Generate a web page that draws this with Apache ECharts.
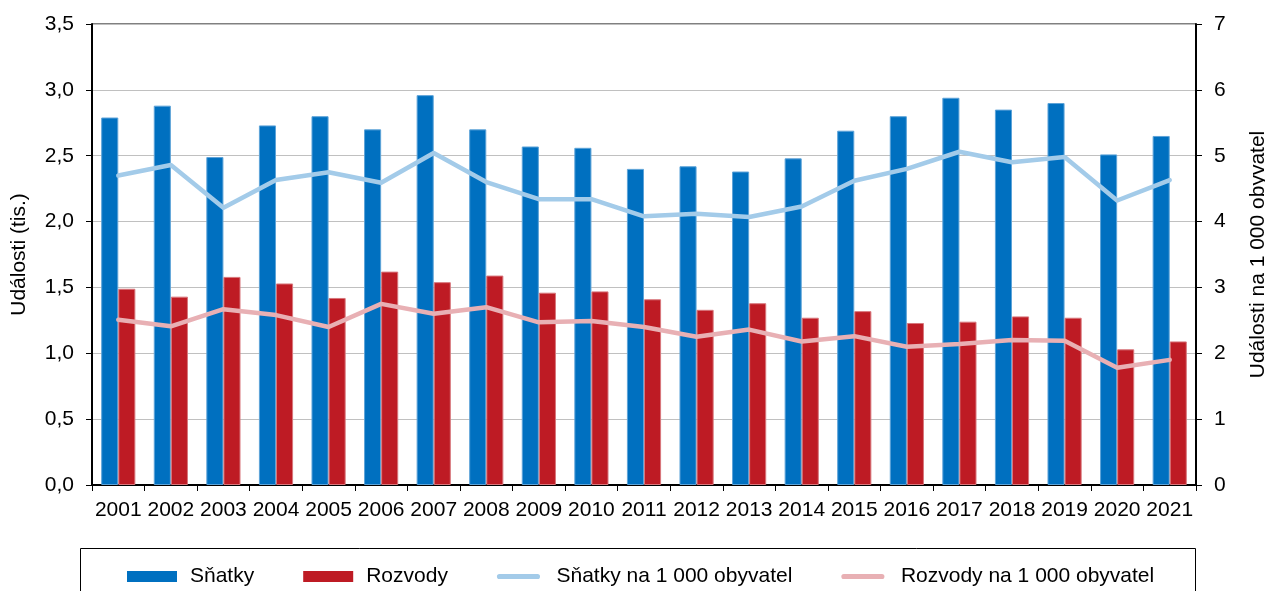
<!DOCTYPE html>
<html><head><meta charset="utf-8">
<script src="https://cdn.jsdelivr.net/npm/echarts@6/dist/echarts.min.js"></script>
<style>html,body{margin:0;padding:0;background:#fff}#c{width:1265px;height:591px}</style>
</head><body><div id="c"></div>
<script>
const years = ['2001','2002','2003','2004','2005','2006','2007','2008','2009','2010','2011','2012','2013','2014','2015','2016','2017','2018','2019','2020','2021'];
const snatky = [2.79,2.88,2.49,2.73,2.80,2.70,2.96,2.70,2.57,2.56,2.40,2.42,2.38,2.48,2.69,2.80,2.94,2.85,2.90,2.51,2.65];
const rozvody = [1.49,1.43,1.58,1.53,1.42,1.62,1.54,1.59,1.46,1.47,1.41,1.33,1.38,1.27,1.32,1.23,1.24,1.28,1.27,1.03,1.09];
const snatkyNa1000 = [4.70,4.86,4.21,4.63,4.75,4.59,5.04,4.60,4.34,4.34,4.08,4.12,4.07,4.23,4.62,4.80,5.06,4.90,4.98,4.32,4.63];
const rozvodyNa1000 = [2.51,2.41,2.67,2.58,2.40,2.75,2.60,2.70,2.47,2.49,2.40,2.25,2.36,2.18,2.26,2.10,2.14,2.20,2.19,1.78,1.90];
const leftTicks = ['0,0','0,5','1,0','1,5','2,0','2,5','3,0','3,5'];

const font = 'Liberation Sans, Arial, sans-serif';
const FS = 21;
const lineIcon = 'path://M0,0L0,0M2.5,3.5L47.5,3.5A3,3 0 0 1 47.5,9.5L2.5,9.5A3,3 0 0 1 2.5,3.5ZM50,13L50,13';
const chart = echarts.init(document.getElementById('c'), null, {renderer:'canvas'});
chart.setOption({
  animation:false,
  textStyle:{fontFamily:font, color:'#000'},
  grid:{left:92, right:69, top:24, bottom:106, show:true, borderColor:'#000', borderWidth:1,
        containLabel:false, outerBoundsMode:'none'},
  legend:{
    top:566, left:127, padding:0, itemGap:49, itemWidth:50, itemHeight:11,
    itemStyle:{borderWidth:0},
    textStyle:{fontFamily:font, fontSize:FS, color:'#000', padding:[0,0,0,8]},
    data:[
      {name:'Sňatky', icon:'rect'},
      {name:'Rozvody', icon:'rect'},
      {name:'Sňatky na 1 000 obyvatel', icon:lineIcon},
      {name:'Rozvody na 1 000 obyvatel', icon:lineIcon}
    ]
  },
  graphic:[{type:'rect', shape:{x:80.5, y:548.5, width:1115, height:60}, style:{fill:'none', stroke:'#000', lineWidth:1}, silent:true, z:-1}],
  xAxis:{
    type:'category', data:years, boundaryGap:true,
    axisLine:{lineStyle:{color:'#000', width:2}},
    axisTick:{show:true, length:6, lineStyle:{color:'#000'}},
    axisLabel:{fontSize:FS, color:'#000', margin:15, fontFamily:font, interval:0}
  },
  yAxis:[
    {type:'value', min:0, max:3.5, interval:0.5, position:'left',
     name:'Události (tis.)', nameLocation:'middle', nameGap:62, nameRotate:90,
     nameTextStyle:{fontSize:FS, color:'#000', fontFamily:font},
     axisLine:{show:true, lineStyle:{color:'#000', width:2}},
     axisTick:{show:true, length:6, lineStyle:{color:'#000'}},
     axisLabel:{fontSize:FS, color:'#000', margin:18, fontFamily:font,
       formatter:function(v){return leftTicks[Math.round(v/0.5)];}},
     splitLine:{show:true, lineStyle:{color:'#c0c0c0', width:1}}
    },
    {type:'value', min:0, max:7, interval:1, position:'right',
     name:'Události na 1 000 obyvatel', nameLocation:'middle', nameGap:52, nameRotate:90,
     nameTextStyle:{fontSize:FS, color:'#000', fontFamily:font},
     axisLine:{show:true, lineStyle:{color:'#000', width:2}},
     axisTick:{show:true, length:6, lineStyle:{color:'#000'}},
     axisLabel:{fontSize:FS, color:'#000', margin:18, fontFamily:font},
     splitLine:{show:false}
    }
  ],
  series:[
    {name:'Sňatky', type:'bar', data:snatky, yAxisIndex:0, barGap:'0%', barCategoryGap:'35%',
     itemStyle:{color:'#0070c0', borderColor:'#5da3d8', borderWidth:1}},
    {name:'Rozvody', type:'bar', data:rozvody, yAxisIndex:0,
     itemStyle:{color:'#be1b24', borderColor:'#d8777c', borderWidth:1}},
    {name:'Sňatky na 1 000 obyvatel', type:'line', data:snatkyNa1000, yAxisIndex:1,
     symbol:'none', lineStyle:{color:'#a3cbe9', width:4.5, cap:'round', join:'round'}, itemStyle:{color:'#a3cbe9'}, z:5},
    {name:'Rozvody na 1 000 obyvatel', type:'line', data:rozvodyNa1000, yAxisIndex:1,
     symbol:'none', lineStyle:{color:'#e8b0b4', width:4.5, cap:'round', join:'round'}, itemStyle:{color:'#e8b0b4'}, z:5}
  ]
});
</script></body></html>
